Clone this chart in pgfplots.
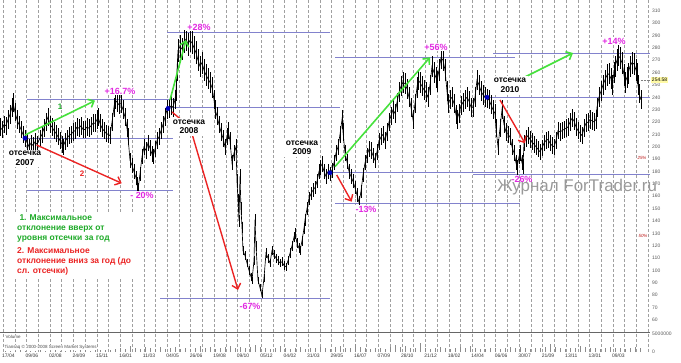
\documentclass[border=0pt]{standalone}
\usepackage{pgfplots}
\pgfplotsset{compat=1.18}
\usepackage{fontspec}
\setmainfont{Liberation Sans}
\usetikzlibrary{arrows.meta}
\definecolor{lvl}{RGB}{130,130,205}
\definecolor{grn}{RGB}{70,225,60}
\definecolor{dgrn}{RGB}{30,170,40}
\definecolor{rd}{RGB}{235,35,35}
\definecolor{mag}{RGB}{225,40,225}
\definecolor{grd}{RGB}{160,160,160}
\definecolor{lbl}{RGB}{90,90,90}
\begin{document}
\begin{tikzpicture}
\path[use as bounding box] (0bp,0bp) rectangle (681bp,363bp);
% ---------------- volume panel ----------------
\begin{axis}[
  at={(0bp,11bp)}, anchor=south west,
  scale only axis, width=650bp, height=20bp,
  xmin=0, xmax=650, ymin=0, ymax=5.6,
  clip=false,
  axis line style={draw=none},
  yticklabel pos=right,
  xtick={3,26.46,...,650}, minor x tick num=1, xticklabels={},
  xmajorgrids, xminorgrids,
  major grid style={densely dashed, grd, line width=0.4pt},
  minor grid style={densely dashed, grd, line width=0.4pt},
  major tick length=0pt, minor tick length=0pt,
  ytick={0,5}, yticklabels={0,5000000},
  yticklabel style={font=\fontsize{5}{6}\selectfont, text=lbl, anchor=west, inner sep=1pt, xshift=1bp},
  /pgf/number format/assume math mode=true,
]
\addplot[ycomb, black!45, line width=0.7pt] coordinates {
(5,0.3) (10,0.4) (15,0.3) (20,0.5) (25,0.4) (30,0.3) (35,0.4) (40,0.5) (45,0.3) (50,0.4) (55,0.6) (60,0.4) (65,0.3) (70,0.5) (75,0.4) (80,0.6) (85,0.5) (90,0.4) (95,0.5) (100,0.7) (105,0.5) (110,0.6) (115,0.8)
(120,1.2) (125,0.9) (130,1.6) (135,1.1) (140,0.8) (145,1.4) (150,1.0) (155,0.9) (160,1.3) (165,0.8) (170,1.1) (175,1.5) (180,0.9) (185,1.0) (190,0.8) (195,1.2) (200,1.6) (205,1.1) (210,1.3) (215,0.9) (220,1.0) (225,1.4) (230,1.8) (235,1.2) (240,1.5) (245,1.1) (250,1.3) (255,2.0) (260,1.4) (265,1.1) (270,0.9) (275,1.2) (280,1.6) (285,1.0) (290,0.8) (295,1.1) (300,1.3) (305,0.9) (310,1.0) (315,1.2) (320,1.5) (325,1.1) (330,0.9) (335,1.3) (340,1.7) (345,1.2) (350,1.0) (355,2.3) (360,1.4) (365,1.1) (370,0.9) (375,1.0) (380,1.2) (385,0.8) (390,1.5) (395,1.9) (400,1.3) (405,1.6) (410,1.1) (415,1.0) (420,2.4) (425,1.2) (430,0.9) (435,1.1) (440,1.3) (445,1.0) (450,0.8) (455,1.2) (460,1.4) (465,1.0) (470,1.6) (475,1.1) (480,0.9) (485,0.8) (490,1.0) (495,1.2) (500,0.9) (505,1.1) (510,1.3) (515,1.0) (520,1.5) (525,1.2) (530,0.9) (535,1.0) (540,1.1) (545,1.4) (550,2.2) (555,1.3) (560,1.0) (565,0.9) (570,1.2) (575,1.1) (580,1.6) (585,1.3) (590,1.0) (595,1.2) (600,0.9) (605,1.1) (610,1.4) (615,1.0) (620,1.2) (625,0.8) (630,1.1) (635,1.3) (640,1.0)
};
\node[anchor=west, fill=white, inner sep=0.5pt, text=black!70, font=\fontsize{4.5}{5}\selectfont] at (axis cs:5,4.3) {Volume};
\node[anchor=west, fill=white, inner sep=0.5pt, text=black!70, font=\fontsize{4.5}{5}\selectfont] at (axis cs:4,1.3) {Tiansaq © 2000-2008 Screen Market Systems};
\end{axis}
% ---------------- price panel ----------------
\begin{axis}[
  at={(0bp,31bp)}, anchor=south west,
  scale only axis, width=650bp, height=332bp,
  xmin=0, xmax=650, ymin=50.25, ymax=318.65,
  clip=false,
  axis line style={draw=none},
  yticklabel pos=right, xticklabel pos=left,
  xtick={3,26.46,...,650}, minor x tick num=1,
  xticklabels={17/04,09/06,02/08,24/09,15/11,16/01,11/03,04/05,26/06,19/08,09/10,05/12,04/02,31/03,29/05,16/07,07/09,28/10,21/12,18/02,14/04,06/06,30/07,21/09,13/11,13/01,09/03,{}},
  xticklabel style={font=\fontsize{5}{6}\selectfont, text=black!80, anchor=north west, inner sep=0pt, xshift=-1bp, yshift=-21.5bp},
  xmajorgrids, xminorgrids,
  major grid style={densely dashed, grd, line width=0.4pt},
  minor grid style={densely dashed, grd, line width=0.4pt},
  ytick={50,60,...,310},
  major tick length=0pt, minor tick length=0pt,
  yticklabel style={font=\fontsize{5}{6}\selectfont, text=lbl, anchor=west, inner sep=1pt, xshift=1bp},
  /pgf/number format/assume math mode=true,
]
\draw[black!60, line width=0.6pt] (rel axis cs:0,0) -- (rel axis cs:1,0);
% level lines
\addplot[lvl, line width=0.9pt] coordinates {(25,207) (173,207)};
\addplot[lvl, line width=0.9pt] coordinates {(27,238.4) (177,238.4)};
\addplot[lvl, line width=0.9pt] coordinates {(27,164.3) (173,164.3)};
\addplot[lvl, line width=0.9pt] coordinates {(166,231.7) (340,231.7)};
\addplot[lvl, line width=0.9pt] coordinates {(167,292.5) (330,292.5)};
\addplot[lvl, line width=0.9pt] coordinates {(160,77.5) (330,77.5)};
\addplot[lvl, line width=0.9pt] coordinates {(330,179) (515,179)};
\addplot[lvl, line width=0.9pt] coordinates {(335,272.6) (515,272.6)};
\addplot[lvl, line width=0.9pt] coordinates {(335,154.5) (520,154.5)};
\addplot[lvl, line width=0.9pt] coordinates {(487,240) (650,240)};
\addplot[lvl, line width=0.9pt] coordinates {(493,275.8) (650,275.8)};
\addplot[lvl, line width=0.9pt] coordinates {(473,177.7) (650,177.7)};
% price
\addplot[black, line width=0.65pt, mark=none,
  error bars/.cd, y dir=both, y fixed relative=0.033, error mark=none,
  error bar style={black, line width=0.65pt}] coordinates {
(0,216) (2,214) (4,218) (6,217) (8,222) (10,226) (12,232) (13,236) (15,228) (17,222) (19,218) (21,214) (23,210) (25,207) (27,204) (29,200) (31,203) (33,201) (35,204) (37,202) (40,207) (42,210) (44,215) (46,220) (48,224) (50,218) (52,216) (54,213) (56,211) (58,208) (60,205) (62,202) (63,200) (65,204) (67,207) (69,209) (71,210) (73,212) (75,213) (77,216) (79,215) (81,217) (83,214) (85,214) (87,216) (89,215) (91,217) (93,219) (95,219) (97,222) (98,224) (100,219) (102,215) (104,213) (106,211) (108,210) (110,209) (112,220) (114,232) (115,238) (117,236) (119,234) (121,235) (123,230) (125,224) (127,215) (128,208) (130,189) (132,185) (134,180) (136,175) (137,170) (138,165) (140,178) (142,192) (144,200) (146,197) (148,203) (150,199) (152,194) (153,192) (155,198) (157,205) (159,208) (161,213) (163,218) (165,224) (167,230) (169,231) (171,233) (173,232) (175,238) (176,245) (177,262) (178,278) (180,281) (182,279) (184,285) (186,287) (188,283) (190,286) (192,284) (194,280) (196,276) (198,270) (200,265) (202,268) (204,262) (206,258) (208,255) (210,252) (212,248) (214,238) (215,230) (217,225) (219,218) (221,212) (223,207) (225,200) (227,208) (228,213) (230,205) (232,187) (234,195) (236,200) (237,172) (238,157) (239,140) (240,176) (241,150) (242,135) (243,116) (245,112) (247,106) (249,100) (251,95) (252,92) (254,108) (255,141) (256,120) (258,92) (260,86) (262,80) (264,94) (266,114) (268,110) (270,106) (272,116) (274,113) (276,110) (278,108) (280,106) (282,107) (284,104) (286,103) (288,108) (290,114) (292,120) (294,127) (295,130) (297,122) (299,118) (300,116) (302,124) (304,134) (305,141) (307,150) (309,158) (311,162) (313,165) (315,167) (317,172) (319,180) (320,183) (322,186) (324,180) (326,176) (328,180) (330,178) (332,181) (334,187) (336,195) (338,200) (340,210) (342,222) (343,212) (345,195) (347,188) (349,180) (351,176) (353,172) (355,167) (357,161) (359,155) (361,164) (363,177) (365,187) (367,193) (369,198) (371,197) (373,193) (375,189) (377,196) (379,204) (381,208) (383,210) (385,205) (387,212) (389,220) (391,225) (393,230) (395,227) (397,236) (399,244) (401,249) (403,252) (405,251) (407,247) (409,240) (411,232) (413,222) (415,235) (417,248) (418,254) (420,252) (422,249) (424,246) (426,244) (428,240) (430,250) (432,265) (434,260) (436,256) (437,253) (439,262) (441,272) (443,270) (445,262) (447,245) (448,235) (450,238) (452,240) (454,235) (456,226) (457,222) (459,227) (461,233) (463,236) (465,238) (467,240) (469,237) (471,232) (473,232) (475,240) (477,254) (479,250) (481,245) (483,242) (485,240) (487,239) (489,238) (491,234) (493,230) (495,227) (496,215) (498,200) (500,215) (502,230) (504,218) (506,212) (508,210) (510,208) (512,200) (514,195) (516,187) (517,183) (519,192) (520,195) (522,187) (523,184) (524,203) (526,207) (528,209) (530,206) (532,204) (534,202) (536,200) (538,198) (540,196) (542,199) (544,203) (546,205) (548,206) (550,203) (552,201) (554,200) (556,205) (558,213) (560,212) (562,213) (564,214) (566,215) (568,216) (570,220) (572,223) (574,221) (576,216) (578,213) (580,211) (582,209) (584,215) (586,219) (588,220) (590,222) (592,221) (594,220) (596,222) (597,232) (599,240) (601,245) (603,250) (605,254) (607,258) (609,259) (611,255) (612,250) (614,260) (615,265) (617,270) (618,274) (620,272) (622,268) (624,258) (625,252) (627,256) (628,259) (630,265) (632,268) (634,267) (636,262) (637,259) (638,250) (639,243) (641,238)
};
% arrows
\addplot[grn, line width=1.6pt, -{Straight Barb[length=5bp,width=9bp]}] coordinates {(25,209.5) (95,237.3)};
\addplot[rd, line width=1.4pt, -{Straight Barb[length=5bp,width=9bp]}] coordinates {(36.7,201.4) (121.7,170.5)};
\addplot[grn, line width=1.6pt, -{Straight Barb[length=5bp,width=9bp]}] coordinates {(170,237.8) (186,286.3)};
\addplot[rd, line width=1.4pt, -{Straight Barb[length=5bp,width=9bp]}] coordinates {(172,228.1) (190,216.0) (238,84.2)};
\addplot[grn, line width=1.6pt, -{Straight Barb[length=5bp,width=9bp]}] coordinates {(335,183.9) (430,272.3)};
\addplot[rd, line width=1.4pt, -{Straight Barb[length=5bp,width=9bp]}] coordinates {(336.7,177.2) (351.7,155.6)};
\addplot[grn, line width=1.6pt, -{Straight Barb[length=5bp,width=9bp]}] coordinates {(523,255.6) (573,275.8)};
\addplot[rd, line width=1.4pt, -{Straight Barb[length=5bp,width=9bp]}] coordinates {(500,237.8) (525,202.8)};
% cut-off dots
\addplot[only marks, mark=*, mark size=2.2pt, color=blue!75!black] coordinates {(25,207) (168,231) (330,179) (487,240)};
% labels
\tikzset{cut/.style={fill=white, inner sep=1.5pt, align=center, font=\bfseries\fontsize{8.5}{9.5}\selectfont}}
\tikzset{pct/.style={fill=white, inner sep=1pt, text=mag, font=\bfseries\fontsize{9}{10}\selectfont}}
\node[cut] at (axis cs:25,190.8) {отсечка\\2007};
\node[cut] at (axis cs:189,216) {отсечка\\2008};
\node[cut] at (axis cs:302,199) {отсечка\\2009};
\node[cut] at (axis cs:510,249.9) {отсечка\\2010};
\node[pct] at (axis cs:120,245.1) {+16.7\%};
\node[pct] at (axis cs:199,296.8) {+28\%};
\node[pct] at (axis cs:142,161) {- 20\%};
\node[pct] at (axis cs:250,71.3) {-67\%};
\node[pct] at (axis cs:436,280.7) {+56\%};
\node[pct] at (axis cs:366,149.7) {-13\%};
\node[pct] at (axis cs:614,285.5) {+14\%};
\node[pct, fill=none] at (axis cs:522,173.5) {-26\%};
\node[text=dgrn, font=\bfseries\fontsize{8}{9}\selectfont] at (axis cs:60,232.1) {1};
\node[text=rd, font=\bfseries\fontsize{8}{9}\selectfont] at (axis cs:82,178) {2};
\node[anchor=north west, fill=white, align=left, inner sep=3pt, font=\bfseries\fontsize{8.5}{10}\selectfont] at (axis cs:14,147.3)
 {\textcolor{dgrn}{\ 1. Максимальное}\\
  \textcolor{dgrn}{отклонение вверх от}\\
  \textcolor{dgrn}{уровня отсечки за год}\\[3bp]
  \textcolor{rd}{2. Максимальное}\\
  \textcolor{rd}{отклонение вниз за год (до}\\
  \textcolor{rd}{сл. отсечки)}};
\node[text=black!40, font=\fontsize{17}{18}\selectfont] at (axis cs:577,167.3) {Журнал ForTrader.ru};
\node[text=rd!80!black, font=\itshape\fontsize{4.5}{5}\selectfont] at (axis cs:642,190.8) {25\%};
\node[text=rd!80!black, font=\itshape\fontsize{4.5}{5}\selectfont] at (axis cs:643,127.9) {50\%};
\addplot[black!50, densely dotted, line width=0.4pt] coordinates {(641,254) (652,254)};
\node[anchor=west, fill=yellow!35, inner sep=0.8pt, font=\fontsize{5}{6}\selectfont] at (axis cs:651,254) {254.58};
\end{axis}
\end{tikzpicture}
\end{document}
